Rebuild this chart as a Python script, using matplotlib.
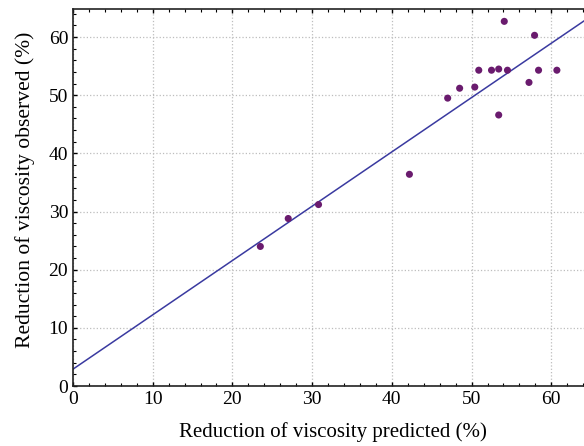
import matplotlib
matplotlib.use("Agg")
import matplotlib.pyplot as plt
import numpy as np
from matplotlib.ticker import MultipleLocator

predicted = [23.5, 27.0, 30.8, 42.2, 47.0, 48.5, 50.4, 50.9, 52.5, 53.4, 53.4, 54.1, 54.5, 57.2, 57.9, 58.4, 60.7]
observed = [24.0, 28.8, 31.2, 36.4, 49.5, 51.2, 51.4, 54.3, 54.3, 54.5, 46.6, 62.7, 54.3, 52.2, 60.3, 54.3, 54.3]
fit_intercept = 2.9
fit_slope = 0.934
x_ticks = [0, 10, 20, 30, 40, 50, 60]
y_ticks = [0, 10, 20, 30, 40, 50, 60]

plt.rcParams['font.family'] = ['Liberation Serif', 'DejaVu Serif']

fig = plt.figure(figsize=(5.84, 4.46), dpi=100)
ax = fig.add_axes([0.125, 0.1345, 0.89, 0.845])

xlim = (0, 65.2)
ylim = (0, 64.8)
xs = np.array(xlim)
ax.plot(xs, fit_intercept + fit_slope * xs, color='#3A3AA0', lw=1.1, zorder=2)
ax.scatter(predicted, observed, s=26, color='#6A1B6E', zorder=3, edgecolors='none')

ax.set_xlim(*xlim)
ax.set_ylim(*ylim)
ax.set_xticks(x_ticks)
ax.set_yticks(y_ticks)
ax.xaxis.set_minor_locator(MultipleLocator(2))
ax.yaxis.set_minor_locator(MultipleLocator(2))
ax.tick_params(which='both', direction='in', top=True, right=True, labelsize=14, colors='black')
ax.tick_params(which='major', length=3, width=1)
ax.tick_params(which='minor', length=2, width=0.8)
ax.grid(True, which='major', color='#bdbdbd', linestyle=':', linewidth=0.9)
ax.set_axisbelow(True)
for s in ax.spines.values():
    s.set_color('#222222')
    s.set_linewidth(1.2)

ax.set_xlabel('Reduction of viscosity predicted (%)', fontsize=15, labelpad=10)
ax.set_ylabel('Reduction of viscosity observed (%)', fontsize=15.6, labelpad=9.5)
ax.yaxis.label.set_y(0.52)

fig.savefig('out.png', dpi=100)
